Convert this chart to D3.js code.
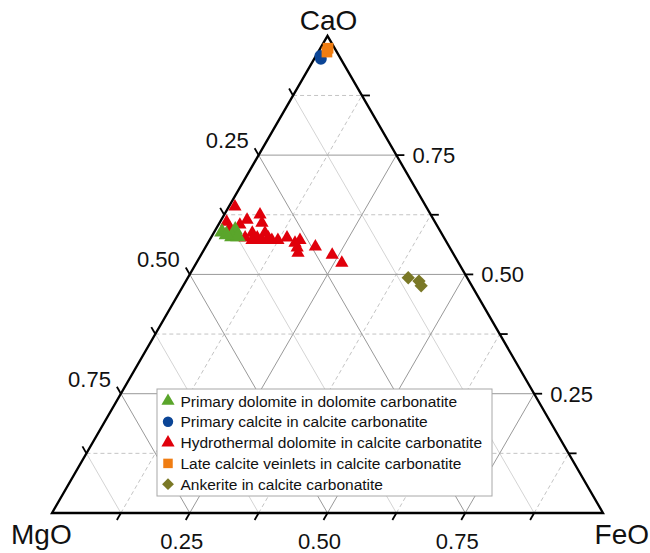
<!DOCTYPE html>
<html>
<head>
<meta charset="utf-8">
<script src="https://cdn.jsdelivr.net/npm/d3@7"></script>
<style>
  body { margin: 0; background: #fff; }
  svg text { font-family: "Liberation Sans", Arial, sans-serif; fill: #111; }
</style>
</head>
<body>
<div id="chart"></div>
<script>
// compositions, each point as [CaO, MgO, FeO]
var primaryDolomite = [
  [0.589, 0.397, 0.014], [0.593, 0.371, 0.036], [0.579, 0.384, 0.037],
  [0.579, 0.373, 0.048], [0.583, 0.392, 0.025]
];
var primaryCalcite = [
  [0.952, 0.036, 0.012], [0.958, 0.034, 0.008]
];
var hydroDolomite = [
  [0.642, 0.347, 0.011], [0.625, 0.310, 0.065], [0.614, 0.339, 0.047],
  [0.608, 0.315, 0.077], [0.610, 0.378, 0.012], [0.597, 0.379, 0.024],
  [0.587, 0.343, 0.070], [0.577, 0.339, 0.084], [0.587, 0.320, 0.093],
  [0.577, 0.319, 0.104], [0.572, 0.351, 0.077], [0.572, 0.304, 0.124],
  [0.577, 0.285, 0.138], [0.566, 0.276, 0.158], [0.572, 0.264, 0.164],
  [0.556, 0.277, 0.167], [0.545, 0.281, 0.174], [0.558, 0.243, 0.199],
  [0.541, 0.221, 0.238], [0.524, 0.212, 0.264], [0.604, 0.357, 0.039],
  [0.572, 0.315, 0.113], [0.572, 0.333, 0.095], [0.577, 0.361, 0.062]
];
var lateCalcite = [
  [0.966, 0.018, 0.016], [0.974, 0.012, 0.014]
];
var ankerite = [
  [0.493, 0.107, 0.400], [0.486, 0.091, 0.423], [0.476, 0.092, 0.432]
];
var tickValues = [0.25, 0.50, 0.75];
var minorValues = [0.125, 0.375, 0.625, 0.875];
var legendLabels = [
  'Primary dolomite in dolomite carbonatite',
  'Primary calcite in calcite carbonatite',
  'Hydrothermal dolomite in calcite carbonatite',
  'Late calcite veinlets in calcite carbonatite',
  'Ankerite in calcite carbonatite'
];

var width = 650, height = 553;
var left = 52, right = 603, base = 513;
var side = right - left, tall = side * Math.sqrt(3) / 2;

// scales: FeO runs along the base, CaO goes up
var xs = d3.scaleLinear().domain([0, 1]).range([left, right]);
var ys = d3.scaleLinear().domain([0, 1]).range([base, base - tall]);

function proj(c) {
  // c = [CaO, MgO, FeO]
  var ca = c[0], fe = c[2];
  return [xs(fe + ca / 2), ys(ca)];
}

var svg = d3.select('#chart').append('svg')
  .attr('width', width).attr('height', height);

var grid = svg.append('g');
var line = d3.line();

function gridLine(a, b, stroke, dash) {
  grid.append('path')
    .attr('d', line([proj(a), proj(b)]))
    .attr('fill', 'none')
    .attr('stroke', stroke)
    .attr('stroke-width', 1)
    .attr('stroke-dasharray', dash);
}

minorValues.forEach(function (v) {
  gridLine([v, 1 - v, 0], [v, 0, 1 - v], '#c4c4c4', '4,3');   // CaO
  gridLine([0, 1 - v, v], [1 - v, 0, v], '#c4c4c4', '4,3');   // FeO
  gridLine([0, v, 1 - v], [1 - v, v, 0], '#d4d4d4', null);    // MgO
});
tickValues.forEach(function (v) {
  gridLine([v, 1 - v, 0], [v, 0, 1 - v], '#999', null);
  gridLine([0, 1 - v, v], [1 - v, 0, v], '#999', null);
  gridLine([0, v, 1 - v], [1 - v, v, 0], '#999', null);
});

// frame
svg.append('path')
  .attr('d', line([proj([0, 1, 0]), proj([1, 0, 0]), proj([0, 0, 1])]) + 'Z')
  .attr('fill', 'none')
  .attr('stroke', '#000')
  .attr('stroke-width', 2.3)
  .attr('stroke-linejoin', 'miter');

// ticks
var ticks = svg.append('g').attr('stroke', '#000').attr('stroke-width', 1.8);
var tl = 8;
tickValues.concat(minorValues).forEach(function (v) {
  // left side, labelled by MgO
  var p = proj([1 - v, v, 0]);
  ticks.append('line').attr('x1', p[0]).attr('y1', p[1])
    .attr('x2', p[0] - tl * 0.5).attr('y2', p[1] - tl * 0.866);
  // right side, labelled by CaO
  p = proj([v, 0, 1 - v]);
  ticks.append('line').attr('x1', p[0]).attr('y1', p[1])
    .attr('x2', p[0] + tl).attr('y2', p[1]);
  // base, labelled by FeO
  p = proj([0, 1 - v, v]);
  ticks.append('line').attr('x1', p[0]).attr('y1', p[1])
    .attr('x2', p[0] - tl * 0.5).attr('y2', p[1] + tl * 0.866);
});

var fmt = d3.format('.2f');
var labels = svg.append('g').attr('font-size', 22);
tickValues.forEach(function (v) {
  var p = proj([1 - v, v, 0]);
  labels.append('text').attr('x', p[0] - 10).attr('y', p[1] - 7)
    .attr('text-anchor', 'end').text(fmt(v));
  p = proj([v, 0, 1 - v]);
  labels.append('text').attr('x', p[0] + 16).attr('y', p[1] + 8)
    .attr('text-anchor', 'start').text(fmt(v));
  p = proj([0, 1 - v, v]);
  labels.append('text').attr('x', p[0] - 8).attr('y', p[1] + 36)
    .attr('text-anchor', 'middle').text(fmt(v));
});

var corner = svg.append('g').attr('font-size', 28);
corner.append('text').attr('x', proj([1, 0, 0])[0] + 1).attr('y', 30)
  .attr('text-anchor', 'middle').text('CaO');
corner.append('text').attr('x', 11).attr('y', 544).text('MgO');
corner.append('text').attr('x', 649).attr('y', 544)
  .attr('text-anchor', 'end').text('FeO');

// series
var series = [
  { data: hydroDolomite, shape: d3.symbolTriangle, size: 76, color: '#e0000b', rot: 0 },
  { data: primaryDolomite, shape: d3.symbolTriangle, size: 105, color: '#5aa52b', rot: 0 },
  { data: primaryCalcite, shape: d3.symbolCircle, size: 110, color: '#0b4596', rot: 0 },
  { data: lateCalcite, shape: d3.symbolSquare, size: 115, color: '#f07d12', rot: 0 },
  { data: ankerite, shape: d3.symbolSquare, size: 88, color: '#7a7826', rot: 45 }
];
var marks = svg.append('g');
series.forEach(function (s) {
  marks.selectAll(null).data(s.data).enter().append('path')
    .attr('d', d3.symbol().type(s.shape).size(s.size))
    .attr('fill', s.color)
    .attr('transform', function (d) {
      var p = proj(d);
      return 'translate(' + p[0] + ',' + p[1] + ') rotate(' + s.rot + ')';
    });
});

// legend
var legendOrder = [1, 2, 0, 3, 4];
var legendSizes = [75, 85, 75, 90, 70];
var lg = svg.append('g').attr('transform', 'translate(157,389)');
lg.append('rect').attr('width', 335).attr('height', 107)
  .attr('fill', '#fff').attr('stroke', '#a8a8a8').attr('stroke-width', 1);
legendOrder.forEach(function (si, i) {
  var s = series[si];
  var y = 12 + i * 20.8;
  lg.append('path')
    .attr('d', d3.symbol().type(s.shape).size(legendSizes[i]))
    .attr('fill', s.color)
    .attr('transform', 'translate(11,' + y + ') rotate(' + s.rot + ')');
  lg.append('text').attr('x', 23.5).attr('y', y + 5.5)
    .attr('font-size', 15.5).text(legendLabels[i]);
});
</script>
</body>
</html>
